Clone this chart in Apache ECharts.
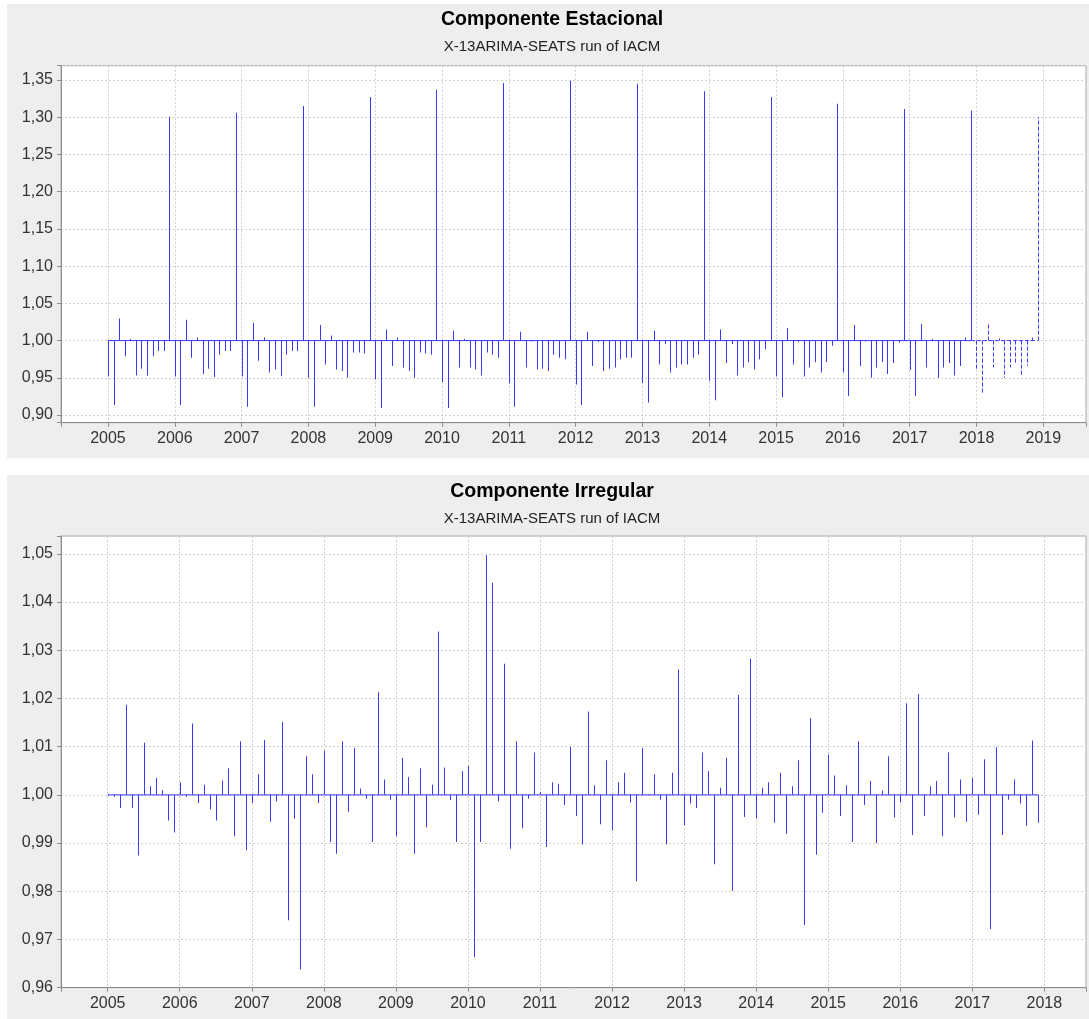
<!DOCTYPE html>
<html>
<head>
<meta charset="utf-8">
<script src="https://cdn.jsdelivr.net/npm/echarts@6/dist/echarts.min.js"></script>
<style>
html,body{margin:0;padding:0;background:#fff;}
#chart{width:1089px;height:1019px;}
</style>
</head>
<body>
<div id="chart"></div>
<script>
// ---- DATA ----
const startYear = 2005;
const titles = ['Componente Estacional', 'Componente Irregular'];
const subtitle = 'X-13ARIMA-SEATS run of IACM';

// Seasonal component, monthly Jan 2005 .. Dec 2017
const seasonal2005 = [0.9516, 0.9135, 1.0296, 0.979, 1.002, 0.953, 0.962, 0.953, 0.979, 0.986, 0.986, 1.3005];
const seasonal2006 = [0.9516, 0.9135, 1.028, 0.977, 1.004, 0.955, 0.962, 0.951, 0.981, 0.986, 0.986, 1.306];
const seasonal2007 = [0.9516, 0.911, 1.024, 0.973, 1.004, 0.957, 0.961, 0.952, 0.981, 0.986, 0.986, 1.315];
const seasonal2008 = [0.950, 0.911, 1.021, 0.968, 1.0067, 0.961, 0.959, 0.950, 0.984, 0.984, 0.9825, 1.327];
const seasonal2009 = [0.948, 0.9095, 1.015, 0.966, 1.004, 0.964, 0.959, 0.950, 0.984, 0.9825, 0.981, 1.337];
const seasonal2010 = [0.9444, 0.9095, 1.0134, 0.964, 1.002, 0.964, 0.961, 0.953, 0.984, 0.981, 0.977, 1.346];
const seasonal2011 = [0.9427, 0.911, 1.0117, 0.964, 1.0, 0.961, 0.962, 0.959, 0.981, 0.977, 0.975, 1.349];
const seasonal2012 = [0.941, 0.9135, 1.0117, 0.966, 0.998, 0.959, 0.962, 0.964, 0.975, 0.977, 0.977, 1.345];
const seasonal2013 = [0.943, 0.9167, 1.0134, 0.968, 0.9955, 0.957, 0.964, 0.968, 0.968, 0.977, 0.981, 1.335];
const seasonal2014 = [0.946, 0.920, 1.015, 0.970, 0.9955, 0.953, 0.964, 0.971, 0.961, 0.975, 0.988, 1.327];
const seasonal2015 = [0.9516, 0.924, 1.017, 0.968, 0.998, 0.9516, 0.964, 0.971, 0.957, 0.971, 0.993, 1.318];
const seasonal2016 = [0.957, 0.9256, 1.021, 0.966, 1.0, 0.950, 0.964, 0.971, 0.955, 0.970, 0.997, 1.311];
const seasonal2017 = [0.9606, 0.9256, 1.0224, 0.964, 1.002, 0.950, 0.964, 0.970, 0.953, 0.966, 1.004, 1.309];
// Seasonal forecast, Jan 2018 .. Dec 2018 (dashed)
const seasonalForecast2018 = [0.962, 0.9274, 1.024, 0.964, 1.003, 0.950, 0.964, 0.970, 0.953, 0.966, 1.004, 1.300];

// Irregular component, monthly Jan 2005 .. Dec 2017
const irregular2005 = [0.9998, 0.9996, 0.9973, 1.0187, 0.9973, 0.9874, 1.0108, 1.0018, 1.0035, 1.001, 0.9947, 0.9922];
const irregular2006 = [1.0026, 0.9996, 1.0148, 0.9983, 1.0021, 0.997, 0.9947, 1.003, 1.0055, 0.9914, 1.0111, 0.9885];
const irregular2007 = [0.9983, 1.0043, 1.0114, 0.9944, 0.9986, 1.0151, 0.974, 0.9951, 0.9638, 1.008, 1.0043, 0.9983];
const irregular2008 = [1.0092, 0.9902, 0.9878, 1.0111, 0.9965, 1.0097, 1.0013, 0.9992, 0.9902, 1.0213, 1.0032, 0.999];
const irregular2009 = [0.9914, 1.0077, 1.0037, 0.9878, 1.0055, 0.9933, 1.0021, 1.0339, 1.0057, 0.999, 0.9902, 1.0049];
const irregular2010 = [1.006, 0.9663, 0.9902, 1.0497, 1.044, 0.9987, 1.0272, 0.9888, 1.0111, 0.9931, 0.9992, 1.0088];
const irregular2011 = [1.0006, 0.9892, 1.0026, 1.0023, 0.9979, 1.01, 0.9956, 0.9897, 1.0173, 1.002, 0.9939, 1.0072];
const irregular2012 = [0.9926, 1.0026, 1.0046, 0.9984, 0.9821, 1.0097, 1.0002, 1.0043, 0.999, 0.9897, 1.0046, 1.026];
const irregular2013 = [0.9937, 0.9982, 0.9973, 1.0088, 1.0049, 0.9856, 1.0015, 1.0077, 0.9801, 1.0207, 0.9954, 1.0283];
const irregular2014 = [0.9951, 1.0015, 1.0026, 0.9942, 1.0046, 0.9919, 1.0018, 1.0072, 0.973, 1.0159, 0.9876, 0.9963];
const irregular2015 = [1.0083, 1.004, 0.9956, 1.002, 0.9902, 1.0111, 0.9979, 1.0029, 0.99, 1.0009, 1.008, 0.9953];
const irregular2016 = [0.9984, 1.019, 0.9917, 1.0209, 0.9956, 1.0018, 1.0029, 0.9914, 1.0088, 0.9953, 1.0032, 0.9944];
const irregular2017 = [1.0035, 0.9959, 1.0074, 0.9722, 1.0099, 0.9917, 0.999, 1.0032, 0.9982, 0.9936, 1.0113, 0.9942];

// ---- build series data (x = year + month/12) ----
const seasonalYears = [seasonal2005, seasonal2006, seasonal2007, seasonal2008, seasonal2009, seasonal2010, seasonal2011,
  seasonal2012, seasonal2013, seasonal2014, seasonal2015, seasonal2016, seasonal2017];
const irregularYears = [irregular2005, irregular2006, irregular2007, irregular2008, irregular2009, irregular2010, irregular2011,
  irregular2012, irregular2013, irregular2014, irregular2015, irregular2016, irregular2017];

function toPoints(years, firstYear) {
  const out = [];
  years.forEach((arr, yi) => arr.forEach((v, m) => out.push([firstYear + yi + m / 12, v])));
  return out;
}
const seasonalPts = toPoints(seasonalYears, startYear);
const forecastPts = toPoints([seasonalForecast2018], startYear + seasonalYears.length);
const irregularPts = toPoints(irregularYears, startYear);
const lastObs = seasonalPts[seasonalPts.length - 1][0];
const lastFc = forecastPts[forecastPts.length - 1][0];

const BLUE = '#3a3aff';

// solid impulse: a 1px-wide filled rect from the 1.0 baseline to the value
function impulseSolid(params, api) {
  const x = api.value(0), v = api.value(1);
  const p0 = api.coord([x, 1]);
  const p1 = api.coord([x, v]);
  const px = Math.round(p0[0]);
  const y0 = Math.min(p0[1], p1[1]), y1 = Math.max(p0[1], p1[1]);
  return {
    type: 'rect',
    shape: { x: px, y: y0, width: 1, height: Math.max(1, y1 - y0) },
    style: { fill: BLUE, stroke: null }
  };
}
// dashed impulse (forecast)
function impulseDashed(params, api) {
  const x = api.value(0), v = api.value(1);
  const p0 = api.coord([x, 1]);
  const p1 = api.coord([x, v]);
  const px = Math.round(p0[0]) + 0.5;
  return {
    type: 'line',
    shape: { x1: px, y1: p0[1], x2: px, y2: p1[1] },
    style: { stroke: BLUE, lineWidth: 1, lineDash: [4, 2], fill: null }
  };
}

const FONT = 'Liberation Sans';
const gridLine = { show: true, lineStyle: { color: '#cfcfcf', type: [2, 2], width: 1 } };
function xAxisCfg(gridIndex, min, max) {
  return {
    type: 'value', gridIndex, min, max, splitNumber: 14,
    axisLine: { show: true, onZero: false, lineStyle: { color: '#8c8c8c' } },
    axisTick: { show: true, length: 4, lineStyle: { color: '#8c8c8c' } },
    axisLabel: {
      color: '#333', fontSize: 16, fontFamily: FONT, margin: 8,
      formatter: v => (Math.abs(v - Math.round(v)) < 1e-6 ? String(Math.round(v)) : '')
    },
    splitLine: gridLine
  };
}
function yAxisCfg(gridIndex, min, max, step) {
  return {
    type: 'value', gridIndex, min, max, splitNumber: Math.round((max - min) / step),
    axisLine: { show: true, lineStyle: { color: '#8c8c8c' } },
    axisTick: { show: true, length: 4, lineStyle: { color: '#8c8c8c' } },
    axisLabel: {
      color: '#333', fontSize: 16, fontFamily: FONT, margin: 8,
      formatter: v => {
        const k = v / step;
        if (Math.abs(k - Math.round(k)) > 1e-6) return '';
        return v.toFixed(2).replace('.', ',');
      }
    },
    splitLine: gridLine
  };
}

const chart = echarts.init(document.getElementById('chart'), null, { renderer: 'canvas' });
chart.setOption({
  animation: false,
  backgroundColor: '#ffffff',
  graphic: [
    { type: 'rect', z: -100, silent: true, shape: { x: 7, y: 4, width: 1082, height: 454 }, style: { fill: '#eeeeee' } },
    { type: 'rect', z: -100, silent: true, shape: { x: 7, y: 475, width: 1082, height: 544 }, style: { fill: '#eeeeee' } }
  ],
  title: [
    { text: titles[0], left: 552, textAlign: 'center', top: 9, padding: 0,
      textStyle: { fontFamily: FONT, fontSize: 19.5, fontWeight: 'bold', color: '#000', lineHeight: 22 } },
    { text: subtitle, left: 552, textAlign: 'center', top: 38, padding: 0,
      textStyle: { fontFamily: FONT, fontSize: 15, fontWeight: 'normal', color: '#222', lineHeight: 18 } },
    { text: titles[1], left: 552, textAlign: 'center', top: 481, padding: 0,
      textStyle: { fontFamily: FONT, fontSize: 19.5, fontWeight: 'bold', color: '#000', lineHeight: 22 } },
    { text: subtitle, left: 552, textAlign: 'center', top: 510, padding: 0,
      textStyle: { fontFamily: FONT, fontSize: 15, fontWeight: 'normal', color: '#222', lineHeight: 18 } }
  ],
  grid: [
    { left: 61, right: 2.5, top: 65.7, bottom: 596.3, show: true, backgroundColor: '#ffffff', borderColor: '#a8a8a8', borderWidth: 1, containLabel: false },
    { left: 61, right: 2.5, top: 536, bottom: 31.3, show: true, backgroundColor: '#ffffff', borderColor: '#a8a8a8', borderWidth: 1, containLabel: false }
  ],
  xAxis: [xAxisCfg(0, 2004.297, 2019.639), xAxisCfg(1, 2004.352, 2018.578)],
  yAxis: [yAxisCfg(0, 0.8897, 1.3692, 0.05), yAxisCfg(1, 0.96, 1.0537, 0.01)],
  series: [
    { type: 'line', xAxisIndex: 0, yAxisIndex: 0, data: [[seasonalPts[0][0], 1], [lastObs, 1]], showSymbol: false, symbol: 'none',
      lineStyle: { color: BLUE, width: 1 }, z: 3 },
    { type: 'line', xAxisIndex: 0, yAxisIndex: 0, data: [[lastObs, 1], [lastFc, 1]], showSymbol: false, symbol: 'none',
      lineStyle: { color: BLUE, width: 1, type: [4, 2] }, z: 3 },
    { type: 'custom', xAxisIndex: 0, yAxisIndex: 0, data: seasonalPts, renderItem: impulseSolid, encode: { x: 0, y: 1 }, z: 4 },
    { type: 'custom', xAxisIndex: 0, yAxisIndex: 0, data: forecastPts, renderItem: impulseDashed, encode: { x: 0, y: 1 }, z: 4 },
    { type: 'line', xAxisIndex: 1, yAxisIndex: 1, data: [[irregularPts[0][0], 1], [irregularPts[irregularPts.length - 1][0], 1]], showSymbol: false, symbol: 'none',
      lineStyle: { color: BLUE, width: 1 }, z: 3 },
    { type: 'custom', xAxisIndex: 1, yAxisIndex: 1, data: irregularPts, renderItem: impulseSolid, encode: { x: 0, y: 1 }, z: 4 }
  ]
});
</script>
</body>
</html>
